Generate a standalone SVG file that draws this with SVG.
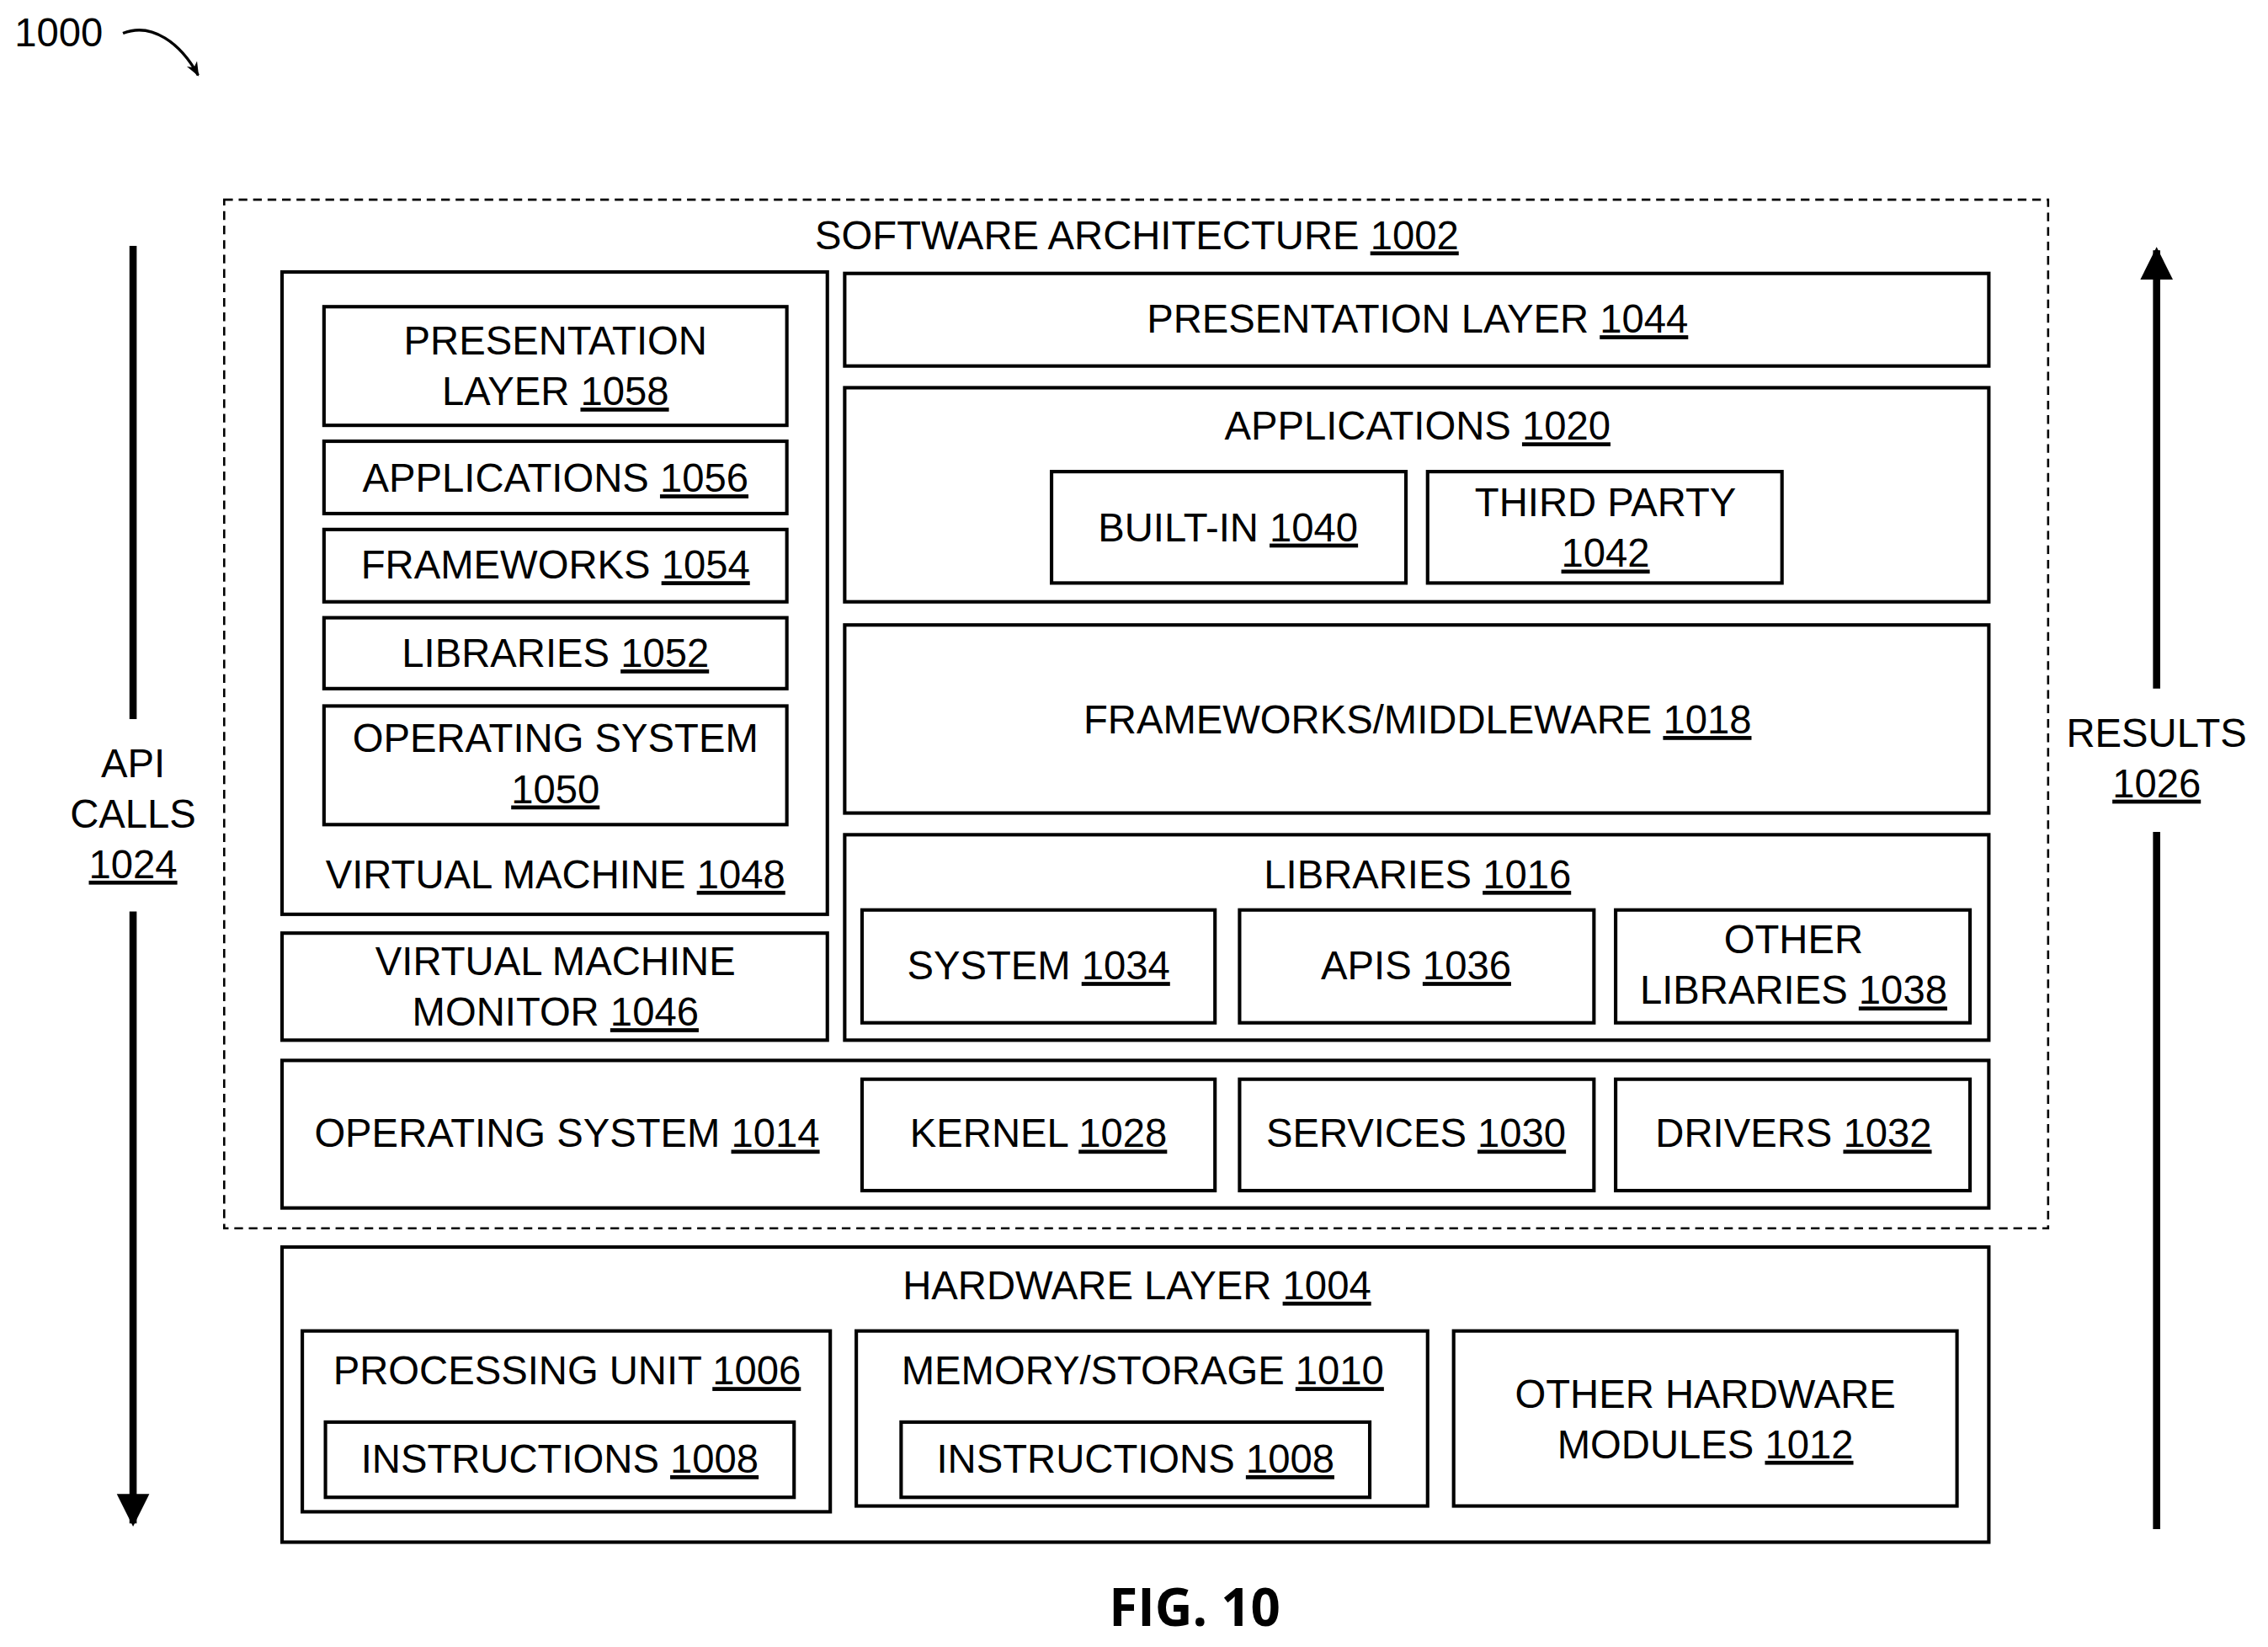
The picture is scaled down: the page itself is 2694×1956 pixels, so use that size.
<svg xmlns="http://www.w3.org/2000/svg" width="2694" height="1956" viewBox="0 0 2694 1956">
<style>
.b{fill:none;stroke:#000;stroke-width:2.4}
text{font-family:"Liberation Sans",Arial,sans-serif;font-size:27.5px;fill:#000;text-anchor:middle}
.u{text-decoration:underline}
</style>
<defs>
<marker id="ah" viewBox="0 0 10 10" refX="9" refY="5" markerWidth="4.5" markerHeight="5" orient="auto" markerUnits="strokeWidth"><path d="M0,0L10,5L0,10z"/></marker>
<marker id="ah2" viewBox="0 0 10 10" refX="9" refY="5" markerWidth="10" markerHeight="10" orient="auto" markerUnits="userSpaceOnUse"><path d="M0,1L10,5L0,9L3,5z"/></marker>
</defs>
<rect width="2694" height="1956" fill="#fff"/>
<g transform="scale(1.7181)">
<g id="fig-label"><text x="10" y="32" style="text-anchor:start">1000</text></g>
<g id="software-architecture"><rect x="155" y="138" width="1261" height="711" fill="none" stroke="#000" stroke-width="1.5" stroke-dasharray="6,4"/><text x="786" y="172">SOFTWARE ARCHITECTURE <tspan class="u">1002</tspan></text></g>
<g id="vm1048"><rect class="b" x="195" y="188" width="377" height="444"/><text x="384" y="614">VIRTUAL MACHINE <tspan class="u">1048</tspan></text></g>
<g id="pres1058"><rect class="b" x="224" y="212" width="320" height="82"/><text x="384" y="245">PRESENTATION</text><text x="384" y="280">LAYER <tspan class="u">1058</tspan></text></g>
<g id="app1056"><rect class="b" x="224" y="305" width="320" height="50"/><text x="384" y="340">APPLICATIONS <tspan class="u">1056</tspan></text></g>
<g id="fw1054"><rect class="b" x="224" y="366" width="320" height="50"/><text x="384" y="400">FRAMEWORKS <tspan class="u">1054</tspan></text></g>
<g id="lib1052"><rect class="b" x="224" y="427" width="320" height="49"/><text x="384" y="461">LIBRARIES <tspan class="u">1052</tspan></text></g>
<g id="os1050"><rect class="b" x="224" y="488" width="320" height="82"/><text x="384" y="520">OPERATING SYSTEM</text><text x="384" y="555" class="u">1050</text></g>
<g id="vmm1046"><rect class="b" x="195" y="645" width="377" height="74"/><text x="384" y="674">VIRTUAL MACHINE</text><text x="384" y="709">MONITOR <tspan class="u">1046</tspan></text></g>
<g id="pres1044"><rect class="b" x="584" y="189" width="791" height="64"/><text x="980" y="230">PRESENTATION LAYER <tspan class="u">1044</tspan></text></g>
<g id="app1020"><rect class="b" x="584" y="268" width="791" height="148"/><text x="980" y="304">APPLICATIONS <tspan class="u">1020</tspan></text></g>
<g id="bi1040"><rect class="b" x="727" y="326" width="245" height="77"/><text x="849" y="374">BUILT-IN <tspan class="u">1040</tspan></text></g>
<g id="tp1042"><rect class="b" x="987" y="326" width="245" height="77"/><text x="1110" y="357">THIRD PARTY</text><text x="1110" y="392" class="u">1042</text></g>
<g id="fw1018"><rect class="b" x="584" y="432" width="791" height="130"/><text x="980" y="507">FRAMEWORKS/MIDDLEWARE <tspan class="u">1018</tspan></text></g>
<g id="lib1016"><rect class="b" x="584" y="577" width="791" height="142"/><text x="980" y="614">LIBRARIES <tspan class="u">1016</tspan></text></g>
<g id="sys1034"><rect class="b" x="596" y="629" width="244" height="78"/><text x="718" y="677">SYSTEM <tspan class="u">1034</tspan></text></g>
<g id="apis1036"><rect class="b" x="857" y="629" width="245" height="78"/><text x="979" y="677">APIS <tspan class="u">1036</tspan></text></g>
<g id="other1038"><rect class="b" x="1117" y="629" width="245" height="78"/><text x="1240" y="659">OTHER</text><text x="1240" y="694">LIBRARIES <tspan class="u">1038</tspan></text></g>
<g id="os1014"><rect class="b" x="195" y="733" width="1180" height="102"/><text x="392" y="793">OPERATING SYSTEM <tspan class="u">1014</tspan></text></g>
<g id="kernel1028"><rect class="b" x="596" y="746" width="244" height="77"/><text x="718" y="793">KERNEL <tspan class="u">1028</tspan></text></g>
<g id="svc1030"><rect class="b" x="857" y="746" width="245" height="77"/><text x="979" y="793">SERVICES <tspan class="u">1030</tspan></text></g>
<g id="drv1032"><rect class="b" x="1117" y="746" width="245" height="77"/><text x="1240" y="793">DRIVERS <tspan class="u">1032</tspan></text></g>
<g id="hw1004"><rect class="b" x="195" y="862" width="1180" height="204"/><text x="786" y="898">HARDWARE LAYER <tspan class="u">1004</tspan></text></g>
<g id="pu1006"><rect class="b" x="209" y="920" width="365" height="125"/><text x="392" y="957">PROCESSING UNIT <tspan class="u">1006</tspan></text></g>
<g id="instr1008a"><rect class="b" x="225" y="983" width="324" height="52"/><text x="387" y="1018">INSTRUCTIONS <tspan class="u">1008</tspan></text></g>
<g id="mem1010"><rect class="b" x="592" y="920" width="395" height="121"/><text x="790" y="957">MEMORY/STORAGE <tspan class="u">1010</tspan></text></g>
<g id="instr1008b"><rect class="b" x="623" y="983" width="324" height="52"/><text x="785" y="1018">INSTRUCTIONS <tspan class="u">1008</tspan></text></g>
<g id="ohw1012"><rect class="b" x="1005" y="920" width="348" height="121"/><text x="1179" y="973">OTHER HARDWARE</text><text x="1179" y="1008">MODULES <tspan class="u">1012</tspan></text></g>
<g id="api1024"><text x="92" y="537">API</text><text x="92" y="572">CALLS</text><text x="92" y="607" class="u">1024</text></g>
<g id="res1026"><text x="1491" y="516">RESULTS</text><text x="1491" y="551" class="u">1026</text></g>
<g id="caption"><text x="826" y="1124" style="font-family:'Open Sans','Liberation Sans',sans-serif;font-weight:bold;font-size:36px">FIG. 10</text></g>
<g id="connectors">
<path d="M85,23C105,15 125,30 137,52" fill="none" stroke="#000" stroke-width="2" marker-end="url(#ah2)"/>
<line x1="92" y1="170" x2="92" y2="497" stroke="#000" stroke-width="5"/>
<line x1="92" y1="630" x2="92" y2="1053" stroke="#000" stroke-width="5" marker-end="url(#ah)"/>
<line x1="1491" y1="476" x2="1491" y2="173" stroke="#000" stroke-width="5" marker-end="url(#ah)"/>
<line x1="1491" y1="575" x2="1491" y2="1057" stroke="#000" stroke-width="5"/>
</g>
</g>
</svg>
